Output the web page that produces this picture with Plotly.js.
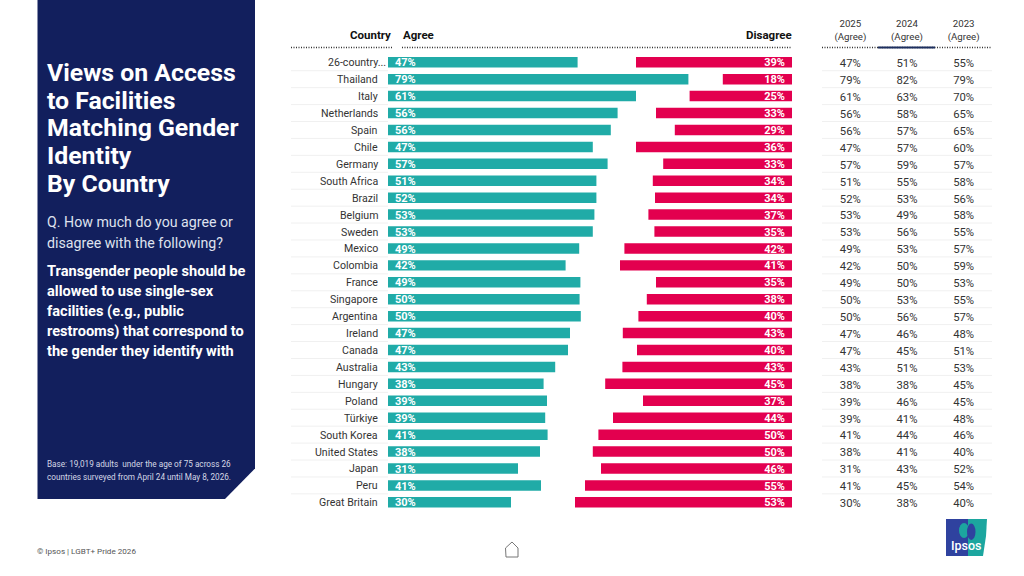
<!DOCTYPE html>
<html>
<head>
<meta charset="utf-8">
<script src="https://cdn.plot.ly/plotly-3.0.1.min.js"></script>
<style>html,body{margin:0;padding:0;background:#fff}</style>
</head>
<body>
<div id="chart" style="width:1024px;height:576px"></div>
<script>
var countries = ['26-country...', 'Thailand', 'Italy', 'Netherlands', 'Spain', 'Chile', 'Germany', 'South Africa', 'Brazil', 'Belgium', 'Sweden', 'Mexico', 'Colombia', 'France', 'Singapore', 'Argentina', 'Ireland', 'Canada', 'Australia', 'Hungary', 'Poland', 'Türkiye', 'South Korea', 'United States', 'Japan', 'Peru', 'Great Britain'];

// printed labels
var agree2025 = [47, 79, 61, 56, 56, 47, 57, 51, 52, 53, 53, 49, 42, 49, 50, 50, 47, 47, 43, 38, 39, 39, 41, 38, 31, 41, 30];
var agree2024 = [51, 82, 63, 58, 57, 57, 59, 55, 53, 49, 56, 53, 50, 50, 53, 56, 46, 45, 51, 38, 46, 41, 44, 41, 43, 45, 38];
var agree2023 = [55, 79, 70, 65, 65, 60, 57, 58, 56, 58, 55, 57, 59, 53, 55, 57, 48, 51, 53, 45, 45, 48, 46, 40, 52, 54, 40];
var disagree2025 = [39, 18, 25, 33, 29, 36, 33, 34, 34, 37, 35, 42, 41, 35, 38, 40, 43, 40, 43, 45, 37, 44, 50, 50, 46, 55, 53];

// bar lengths as measured, the source bars don't follow their labels exactly
var agreeBars = [47.4, 75.1, 62, 57.4, 55.7, 51.2, 54.9, 52.1, 52.1, 51.6, 51.2, 47.8, 44.4, 48.1, 47.9, 48.2, 45.5, 45, 41.8, 38.9, 39.75, 39.3, 39.9, 38, 32.5, 38.25, 30.75];
var disagreeBars = [39, 17.3, 25.6, 34, 29.3, 39, 32.2, 34.8, 34.25, 35.9, 34.4, 41.9, 43, 34, 36.3, 38.4, 42.3, 38.75, 42.4, 46.7, 37.25, 44.75, 48.4, 49.8, 47.75, 51.75, 54.25];

var yearCols = ['2025', '2024', '2023'];
var titleLines = ['Views on Access', 'to Facilities', 'Matching Gender', 'Identity', 'By Country'];
var questionLines = ['Q. How much do you agree or', 'disagree with the following?'];
var statementLines = ['Transgender people should be', 'allowed to use single-sex', 'facilities (e.g., public', 'restrooms) that correspond to', 'the gender they identify with'];
var baseLines = ['Base: 19,019 adults  under the age of 75 across 26', 'countries surveyed from April 24 until May 8, 2026.'];

var NAVY = '#121f5d', TEAL = '#20aba7', PINK = '#e3004f', INK = '#333333';
var LOGO_BLUE = '#2f429f', LOGO_TEAL = '#1ca69f';
var FONT = 'Roboto, sans-serif';

function px(x) { return x / 1024; }
function py(y) { return 1 - y / 576; }
function pct(v) { return v + '%'; }
function path(points) {
  return points.map(function (p, i) { return (i ? 'L' : 'M') + px(p[0]) + ' ' + py(p[1]); }).join(' ') + ' Z';
}

var rows = countries.map(function (c, i) { return i; });
// text sits a little high in its row otherwise
var textRows = rows.map(function (r) { return r + 0.08; });
function same(v) { return countries.map(function () { return v; }); }

function barLabel(text, xaxis, inset) {
  return {
    type: 'scatter', mode: 'text', x: same(inset), y: textRows, xaxis: xaxis, yaxis: 'y',
    text: text, textposition: 'middle right', cliponaxis: false, hoverinfo: 'skip',
    textfont: {family: FONT, size: 11, color: '#ffffff', weight: 700}
  };
}
function yearTrace(label, values) {
  return {
    type: 'scatter', mode: 'text', x: same(label), y: rows.map(function (r) { return r + 0.12; }), xaxis: 'x3', yaxis: 'y',
    text: values.map(pct), textposition: 'middle center', cliponaxis: false, hoverinfo: 'skip',
    textfont: {family: FONT, size: 11.3, color: INK}
  };
}

var agreeTrace = {type: 'bar', orientation: 'h', x: agreeBars, y: rows, xaxis: 'x', yaxis: 'y', marker: {color: TEAL}, hoverinfo: 'skip'};
var disagreeTrace = {type: 'bar', orientation: 'h', x: disagreeBars, y: rows, xaxis: 'x2', yaxis: 'y', marker: {color: PINK}, hoverinfo: 'skip'};
var disagreeLabels = barLabel(disagree2025.map(pct), 'x2', 1.75);
disagreeLabels.textposition = 'middle left';

var data = [
  agreeTrace, disagreeTrace,
  barLabel(agree2025.map(pct), 'x', 1.75), disagreeLabels,
  yearTrace('2025', agree2025), yearTrace('2024', agree2024), yearTrace('2023', agree2023)
];

var annotations = [];
function note(text, x, y, size, color, weight, anchor) {
  annotations.push({
    text: text, xref: 'paper', yref: 'paper', x: px(x), y: py(y), showarrow: false,
    xanchor: anchor || 'left', yanchor: 'middle', align: anchor || 'left',
    borderpad: 0, font: {family: FONT, size: size, color: color, weight: weight || 400}
  });
}
function lines(list, x, yStart, step, size, color, weight) {
  list.forEach(function (t, i) { note(t, x, yStart + i * step, size, color, weight); });
}
lines(titleLines, 46, 72.5, 27.7, 24.8, '#ffffff', 700);
lines(questionLines, 46, 222, 21, 14.2, '#dfe2ee', 400);
lines(statementLines, 46, 271, 20, 14.6, '#ffffff', 700);
lines(baseLines, 46, 464, 13, 8.2, '#d5d8e6', 400);
note('© Ipsos | LGBT+ Pride 2026', 36, 550.5, 8.1, '#555555');
note('Country', 392, 34.5, 11.5, '#111111', 700, 'right');
note('Agree', 402, 34.5, 11.5, '#111111', 700);
note('Disagree', 793, 34.5, 11.5, '#111111', 700, 'right');
note('Ipsos', 966, 545.5, 12.5, '#ffffff', 500, 'center');

countries.forEach(function (c, i) {
  annotations.push({
    text: c, xref: 'paper', yref: 'y', x: px(i === 0 ? 387 : 378.5), y: i + 0.03, showarrow: false,
    xanchor: 'right', yanchor: 'middle', borderpad: 0,
    font: {family: FONT, size: 10.6, color: INK}
  });
});

var shapes = [
  {type: 'path', xref: 'paper', yref: 'paper', layer: 'below', fillcolor: NAVY, line: {width: 0},
    path: path([[37.5, 0], [255, 0], [255, 468.5], [225, 499], [37.5, 499]])},
  // logo
  {type: 'path', xref: 'paper', yref: 'paper', fillcolor: LOGO_BLUE, line: {width: 0},
    path: path([[946, 519], [969, 519], [969, 556], [946, 556]])},
  {type: 'path', xref: 'paper', yref: 'paper', fillcolor: LOGO_TEAL, line: {width: 0},
    path: path([[968, 519], [987, 519], [986, 536], [983, 556], [968, 556]])},
  {type: 'circle', xref: 'paper', yref: 'paper', fillcolor: LOGO_TEAL, line: {width: 0},
    x0: px(959), x1: px(969), y0: py(523), y1: py(538)},
  {type: 'circle', xref: 'paper', yref: 'paper', fillcolor: LOGO_BLUE, line: {width: 0},
    x0: px(967), x1: px(975.5), y0: py(523.5), y1: py(540)},
  // home icon
  {type: 'path', xref: 'paper', yref: 'paper', fillcolor: 'rgba(0,0,0,0)', line: {color: '#777777', width: 1},
    path: path([[505.5, 548], [512, 542], [518, 548], [518, 557], [506, 557]])}
];

function hline(x0, x1, y, color, width, dash) {
  shapes.push({type: 'line', xref: 'paper', yref: 'paper', x0: px(x0), x1: px(x1), y0: py(y), y1: py(y),
    line: {color: color, width: width, dash: dash || 'solid'}});
}
hline(291, 393, 47.5, '#333333', 1.3, '1px,1.5px');
hline(402, 792, 47.5, '#333333', 1.3, '1px,1.5px');
hline(822, 992, 47.5, '#333333', 1.3, '1px,1.5px');
hline(878, 935, 47.5, '#1d2f5f', 2);

rows.slice(0, -1).forEach(function (i) {
  [[291, 388], [822, 992]].forEach(function (span) {
    shapes.push({type: 'line', xref: 'paper', yref: 'y', x0: px(span[0]), x1: px(span[1]), y0: i + 0.5, y1: i + 0.5,
      layer: 'below', line: {color: '#f0f0f0', width: 1}});
  });
});

var layout = {
  width: 1024, height: 576, margin: {l: 0, r: 0, t: 0, b: 0},
  paper_bgcolor: '#ffffff', plot_bgcolor: 'rgba(0,0,0,0)', showlegend: false,
  bargap: 0.38,
  xaxis: {domain: [px(388), px(792)], range: [0, 101], visible: false, fixedrange: true},
  xaxis2: {domain: [px(388), px(792)], range: [101, 0], visible: false, fixedrange: true, anchor: 'y'},
  xaxis3: {
    domain: [px(822), px(992)], anchor: 'y', side: 'top', type: 'category',
    categoryorder: 'array', categoryarray: yearCols, range: [-0.5, 2.5],
    tickmode: 'array', tickvals: yearCols,
    ticktext: yearCols.map(function (y) { return y + '<br>(Agree)'; }),
    ticks: '', showline: false, showgrid: false, zeroline: false, fixedrange: true,
    ticklabelstandoff: 11,
    tickfont: {family: FONT, size: 9.7, color: INK}
  },
  yaxis: {
    domain: [py(510.8), py(53.8)], range: [26.5, -0.5], visible: false, fixedrange: true
  },
  annotations: annotations,
  shapes: shapes
};

Plotly.newPlot('chart', data, layout, {displayModeBar: false, staticPlot: true});
</script>
</body>
</html>
